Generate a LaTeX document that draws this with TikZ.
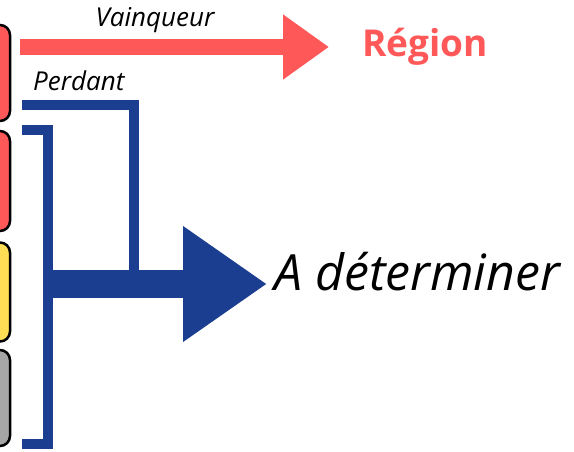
\documentclass[tikz,border=0pt]{standalone}
\usepackage{fontspec}
\setmainfont{Open Sans}
\usetikzlibrary{arrows.meta}
\definecolor{winred}{RGB}{255,88,88}
\definecolor{losblue}{RGB}{27,62,145}
\definecolor{boxyellow}{RGB}{255,221,85}
\definecolor{boxgray}{RGB}{166,166,166}
\tikzset{
  teambox/.style  = {shape=rectangle, rounded corners=10pt, draw=black,
                     line width=2.5pt, minimum width=60pt, inner sep=0pt},
  winarrow/.style = {draw=winred, line width=16pt,
                     -{Triangle[length=46pt,width=62pt]}},
  losline/.style  = {draw=losblue, line width=10pt},
  bigarrow/.style = {draw=losblue, line width=28pt,
                     -{Triangle[length=84pt,width=110pt]}},
  lbl/.style      = {font=\fontsize{26}{29}\selectfont\itshape, inner sep=0pt}
}

\begin{document}
\begin{tikzpicture}
	  [
	    x = 1pt,
	    y = -1pt
	  ]
	  \clip (0,0) rectangle (574,452);
	  \useasboundingbox (0,0) rectangle (574,452);
	  % teams on the left
	  \node [teambox, fill=winred,    minimum height=96pt] (teamA) at (-20,73)  {};
	  \node [teambox, fill=winred,    minimum height=100pt] (teamB) at (-20,181) {};
	  \node [teambox, fill=boxyellow, minimum height=99pt] (teamC) at (-20,292) {};
	  \node [teambox, fill=boxgray,   minimum height=96pt] (teamD) at (-20,398) {};
	  % outcomes
	  \node [anchor=base west, inner sep=0pt, text=winred,
	         font=\fontsize{37}{40}\selectfont\bfseries] (region) at (362,57) {Région};
	  \node [anchor=base west, inner sep=0pt,
	         font=\fontsize{50}{55}\selectfont\itshape] (undecided) at (274,290) {A déterminer};
	  \coordinate (win)  at (20,47);
	  \coordinate (lose) at (22,105);
	  \coordinate (turn) at (134,105);
	  \coordinate (brtop) at (22,130);
	  \coordinate (brbot) at (22,444);
	  \coordinate (join) at (48,284);
	  % winner
	  \draw [winarrow] (win) -- ([xshift=-33pt]region.west |- win);
	  \node [lbl, anchor=base] (winlbl) at (155,27) {Vainqueur};
	  % loser
	  \draw [losline] (lose) -- (turn) -- (turn |- join);
	  \node [lbl, anchor=base west] (loslbl) at (33,91) {Perdant};
	  % the other teams
	  \draw [losline] (brtop) -- (brtop -| join) -- (brbot -| join) -- (brbot);
	  \draw [bigarrow] ([xshift=-4pt]join) -- ([xshift=-7pt]undecided.west |- join);
	\end{tikzpicture}
\end{document}
